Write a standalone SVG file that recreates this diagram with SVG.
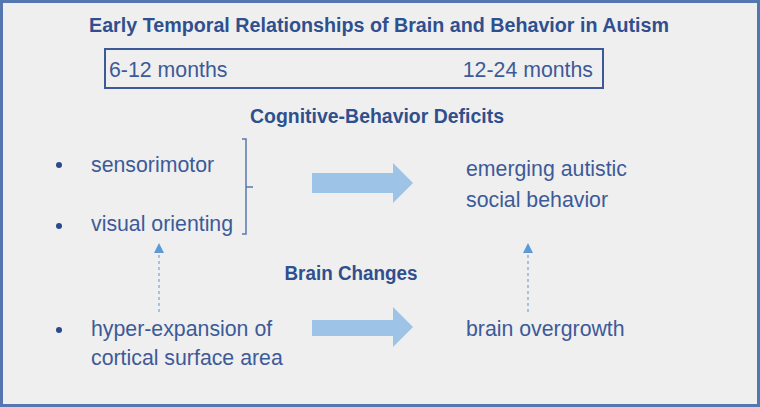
<svg xmlns="http://www.w3.org/2000/svg" width="760" height="407" viewBox="0 0 760 407">
<defs>
<style>
.t{font-family:"Liberation Sans",Arial,sans-serif;fill:#3d5a98;font-size:21.3px}
.h{font-family:"Liberation Sans",Arial,sans-serif;fill:#2f4f8e;font-weight:bold;font-size:19.5px}
.big{fill:#9dc3e6}
.dash{stroke:#7fa9d8;stroke-width:1.3;stroke-dasharray:3 3;fill:none}
.bul{fill:#2b4a8c}
</style>
<marker id="ah" markerWidth="10" markerHeight="10" refX="8" refY="5" orient="auto" markerUnits="userSpaceOnUse" viewBox="0 0 10 10">
<path d="M0,0 L10,5 L0,10 Z" fill="#5b9bd5"/>
</marker>
</defs>
<rect x="0" y="0" width="760" height="407" fill="#efefef"/>
<rect x="1.5" y="1.5" width="757" height="404" fill="none" stroke="#5577b0" stroke-width="3"/>
<g id="title"><text class="h" x="379" y="32" text-anchor="middle" textLength="580" lengthAdjust="spacingAndGlyphs">Early Temporal Relationships of Brain and Behavior in Autism</text></g>
<g id="timeline">
<rect x="105" y="49" width="498" height="39" fill="none" stroke="#3d5a98" stroke-width="2"/>
<text class="t" x="109" y="77">6-12 months</text>
<text class="t" x="593" y="77" text-anchor="end">12-24 months</text>
</g>
<g id="cog-header"><text class="h" x="377" y="123" text-anchor="middle" textLength="254" lengthAdjust="spacingAndGlyphs">Cognitive-Behavior Deficits</text></g>
<g id="sensorimotor"><circle class="bul" cx="59" cy="165" r="3"/><text class="t" x="91" y="172">sensorimotor</text></g>
<g id="visual-orienting"><circle class="bul" cx="59" cy="226" r="3"/><text class="t" x="91" y="231">visual orienting</text></g>
<g id="bracket"><path d="M242,139 L246,139 L246,234 L242,234 M246,187 L253,187" fill="none" stroke="#5a78b0" stroke-width="1.5"/></g>
<g id="emerging"><text class="t" x="466" y="176">emerging autistic</text><text class="t" x="466" y="207">social behavior</text></g>
<g id="brain-header"><text class="h" x="351" y="280" text-anchor="middle" textLength="133" lengthAdjust="spacingAndGlyphs">Brain Changes</text></g>
<g id="hyper"><circle class="bul" cx="59" cy="330" r="3"/><text class="t" x="91" y="336">hyper-expansion of</text><text class="t" x="91" y="365">cortical surface area</text></g>
<g id="overgrowth"><text class="t" x="466" y="336">brain overgrowth</text></g>
<g id="connectors">
<path class="big" d="M312,173 L393,173 L393,163 L413,183 L393,203 L393,193 L312,193 Z"/>
<path class="big" d="M312,320 L393,320 L393,307 L413,327 L393,347 L393,336 L312,336 Z"/>
<line class="dash" x1="159" y1="312" x2="159" y2="245" marker-end="url(#ah)"/>
<line class="dash" x1="528" y1="312" x2="528" y2="245" marker-end="url(#ah)"/>
</g>
</svg>
